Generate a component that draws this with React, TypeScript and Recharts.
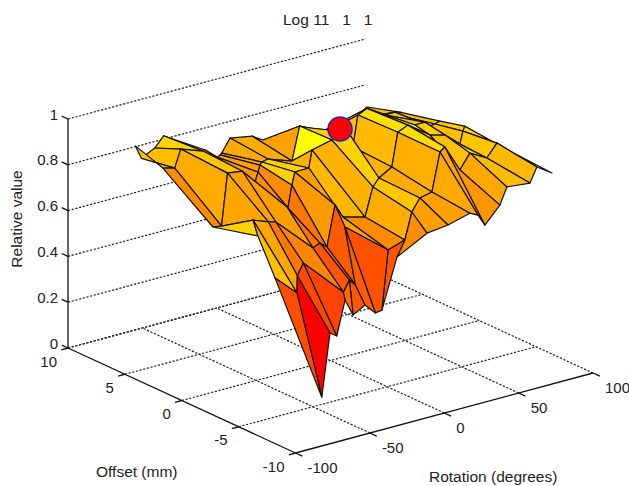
import React from 'react';
import { ScatterChart, Scatter, XAxis, YAxis } from 'recharts';

// Surface samples, one list per offset row, back to front
const offsetRows = [8, 4.8, 1.6, -1.6, -4.8, -8];

const rotationRow1 = [-70, -66, -57, -51, -23, -15, -13, -12, -6.4, 8.4, 15.8, 20.5, 30.5, 37, 44, 64, 71, 75.5, 79.6, 85.6];
const rotationRow2 = [-76, -68, -64, -49, -14, -12, -10.7, -9.4, -5.3, 10.8, 16, 23, 29.6, 36.3, 39.7, 66.6, 73.3, 80, 82, 83.4];
const rotationRow3 = [-66.8, -61, -57, -47, -17, -16.4, -13.7, -11.7, -2.3, -0.2, 13.2, 24, 27.3, 30.7, 36.7, 69, 75.7, 79, 82.4, 85.8];
const rotationRow4 = [-61, -64.3, -54, -49, -24, -19.3, -14.6, -9.2, -3.9, 11, 16.3, 20.3, 29, 33, 39.8, 54.6, 64.7, 74.8, 76.8, 78];
const rotationRow5 = [-74, -59.2, -59, -55, -28, -24, -20, -27, 2, 13.3, 18, 23.4, 31.5, 36.9, 40.2, 50.3, 57, 68.4, 75.2, 82.6];
const rotationRow6 = [-67.6, -67, -61.5, -57, -51.4, -46, -38, -31, -26.6, -16.5, 3.7, 17.8, 32.5, 38, 42.6, 52.7, 57.4, 72.9, 77.6, 87.7];

const valueRow1 = [0.876, 0.815, 0.844, 0.887, 0.776, 0.731, 0.737, 0.743, 0.799, 0.782, 0.752, 0.744, 0.726, 0.714, 0.703, 0.711, 0.721, 0.735, 0.749, 0.774];
const valueRow2 = [0.863, 0.849, 0.925, 0.89, 0.694, 0.734, 0.762, 0.773, 0.779, 0.742, 0.886, 0.865, 0.836, 0.833, 0.849, 0.832, 0.834, 0.835, 0.818, 0.829];
const valueRow3 = [0.663, 0.657, 0.881, 0.872, 0.663, 0.658, 0.753, 0.807, 0.808, 0.883, 0.903, 0.919, 0.848, 0.982, 1.0, 0.871, 0.872, 0.849, 0.852, 0.859];
const valueRow4 = [0.687, 0.762, 0.736, 0.727, 0.57, 0.583, 0.558, 0.732, 0.67, 0.644, 0.766, 0.798, 0.831, 0.976, 0.995, 0.926, 0.908, 0.851, 0.904, 0.924];
const valueRow5 = [0.6, 0.508, 0.583, 0.632, 0.457, 0.503, 0.475, 0.74, 0.589, 0.613, 0.727, 0.779, 0.791, 0.956, 0.972, 0.854, 0.916, 0.875, 0.928, 0.885];
const valueRow6 = [0.151, 0.141, 0.411, 0.39, 0.537, 0.462, 0.492, 0.445, 0.45, 0.664, 0.733, 0.744, 0.77, 0.752, 0.7, 0.77, 0.841, 0.831, 0.893, 0.849];

const rotationRows = [rotationRow1, rotationRow2, rotationRow3, rotationRow4, rotationRow5, rotationRow6];
const valueRows = [valueRow1, valueRow2, valueRow3, valueRow4, valueRow5, valueRow6];

// Colour level read off the picture where a face doesn't follow its corner value: row, column, level
const faceLevels = [
  [3, 0, 0.75],
  [3, 1, 0.65],
  [4, 0, 0.3],
  [2, 0, 0.82],
  [1, 1, 0.67],
  [1, 9, 1],
  [1, 6, 0.82],
  [1, 7, 0.82],
  [2, 6, 0.6],
  [2, 8, 0.72],
  [2, 9, 0.7],
  [3, 8, 0.55],
  [3, 9, 0.68],
  [2, 10, 0.82],
  [3, 10, 0.78],
];

// Best fit marker
const peak = { rotation: 6.4, offset: 0, value: 1 };

const rotationTicks = [-100, -50, 0, 50, 100];
const offsetTicks = [10, 5, 0, -5, -10];
const valueTicks = [0, 0.2, 0.4, 0.6, 0.8, 1];

const FONT = '"Liberation Sans", Arial, sans-serif';

// fixed 3D view of the axes box, the chart's x/y axes then run in page pixels
const project = (rotation: number, offset: number, value: number) => ({
  x: 68 + (10 - offset) * 11.375 + (rotation + 100) * 1.4875,
  y: 348 + (10 - offset) * 5.25 - (rotation + 100) * 0.4 - value * 229,
});

const autumn = (level: number) => `rgb(255,${Math.round(Math.max(0, Math.min(1, level)) * 255)},0)`;

const faces: any[] = [];
for (let row = 0; row < offsetRows.length - 1; row++) {
  for (let col = rotationRow1.length - 2; col >= 0; col--) {
    const corners = [
      [row, col],
      [row + 1, col],
      [row + 1, col + 1],
      [row, col + 1],
    ];
    const pts = corners.map(([r, c]) => project(rotationRows[r][c], offsetRows[r], valueRows[r][c]));
    const fixed = faceLevels.find(f => f[0] === row && f[1] === col);
    const level = fixed ? fixed[2] : (valueRows[row + 1][col] - 0.14) / 0.95;
    faces.push({ x: pts[0].x, y: pts[0].y, pts, fill: autumn(level) });
  }
}

const dotted = {
  stroke: '#222',
  strokeWidth: 1.2,
  strokeDasharray: '2.2 1.6',
};
const solid = { stroke: '#111', strokeWidth: 1.3 };

const noDot = () => <g />;

const FaceShape = (props: any) => {
  const { cx, cy, payload } = props;
  const d = payload.pts.map((p: any) => `${cx + p.x - payload.x},${cy + p.y - payload.y}`).join(' ');
  return <polygon points={d} fill={payload.fill} stroke="#111" strokeWidth={1.2} strokeLinejoin="round" />;
};

const TickLabel = (props: any) => {
  const { cx, cy, payload } = props;
  return (
    <text
      x={cx + payload.dx}
      y={cy + payload.dy}
      textAnchor={payload.anchor}
      dominantBaseline="central"
      fontFamily={FONT}
      fontSize={15}
      fill="#222"
    >
      {payload.text}
    </text>
  );
};

const PeakShape = (props: any) => (
  <circle cx={props.cx} cy={props.cy} r={12} fill="#ff0000" stroke="#2222cc" strokeWidth={1.5} />
);

const App = () => {
  const wallLines = valueTicks.map(v => [project(-100, 10, v), project(100, 10, v)]);
  const offsetLines = [10, 5, 0, -5].map(o => [project(-100, o, 0), project(100, o, 0)]);
  const rotationLines = [-50, 0, 50, 100].map(r => [project(r, -10, 0), project(r, 10, 0)]);

  const axisLines = [
    [project(-100, 10, 0), project(-100, 10, 1)],
    [project(-100, 10, 0), project(-100, -10, 0)],
    [project(-100, -10, 0), project(100, -10, 0)],
  ];
  const tickMarks = [
    ...valueTicks.map(v => [project(-100, 10, v), project(-100, 10.55, v)]),
    ...offsetTicks.map(o => [project(-100, o, 0), project(-104.5, o, 0)]),
    ...rotationTicks.map(r => [project(r, -10, 0), project(r, -10.6, 0)]),
  ];

  const labels = [
    ...valueTicks.map(v => ({ ...project(-100, 10, v), text: String(v), dx: -10, dy: -5, anchor: 'end' })),
    ...offsetTicks.map(o => ({ ...project(-100, o, 0), text: String(o), dx: -11, dy: 13, anchor: 'end' })),
    ...rotationTicks.map(r => ({ ...project(r, -10, 0), text: String(r), dx: 12, dy: 14, anchor: 'start' })),
  ];

  return (
    <div style={{ width: 629, height: 486, background: '#fff' }}>
      <style>{'body{margin:0}'}</style>
      <ScatterChart width={629} height={486} margin={{ top: 0, right: 0, bottom: 0, left: 0 }}>
        <XAxis type="number" dataKey="x" domain={[0, 629]} hide />
        <YAxis type="number" dataKey="y" domain={[0, 486]} reversed hide />

        {[...wallLines, ...offsetLines, ...rotationLines].map((line, i) => (
          <Scatter key={`grid-${i}`} data={line} line={dotted} shape={noDot} isAnimationActive={false} />
        ))}
        {[...axisLines, ...tickMarks].map((line, i) => (
          <Scatter key={`axis-${i}`} data={line} line={solid} shape={noDot} isAnimationActive={false} />
        ))}

        <Scatter data={faces} shape={FaceShape} isAnimationActive={false} />
        <Scatter data={[project(peak.rotation, peak.offset, peak.value)]} shape={PeakShape} isAnimationActive={false} />
        <Scatter data={labels} shape={TickLabel} isAnimationActive={false} />

        <text x={283} y={25} fontFamily={FONT} fontSize={15.5} fill="#222" xmlSpace="preserve">Log 11   1   1</text>
        <text x={0} y={0} transform="translate(22,219) rotate(-90)" textAnchor="middle" fontFamily={FONT} fontSize={15.5} fill="#222">Relative value</text>
        <text x={96} y={477} fontFamily={FONT} fontSize={15.5} fill="#222">Offset (mm)</text>
        <text x={429} y={482} fontFamily={FONT} fontSize={15.5} fill="#222">Rotation (degrees)</text>
      </ScatterChart>
    </div>
  );
};

export default App;
